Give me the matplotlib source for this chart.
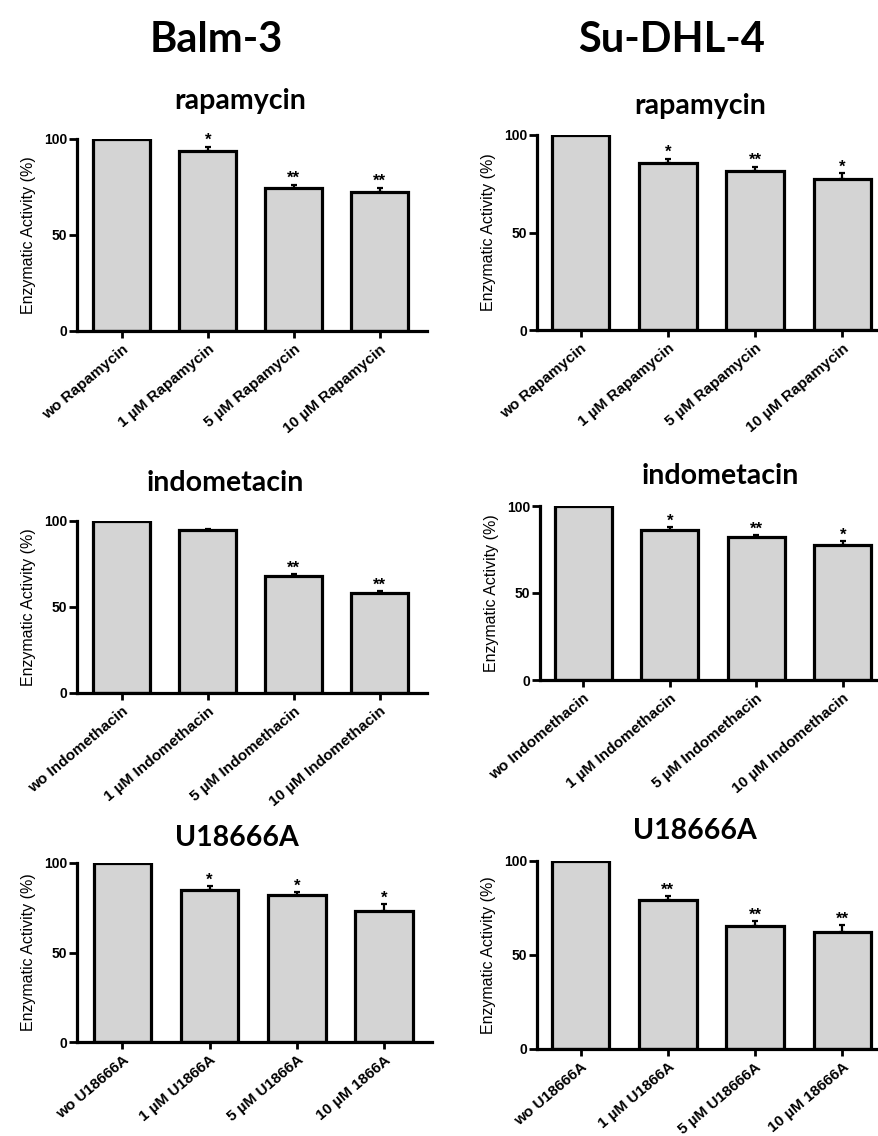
import matplotlib
matplotlib.use("Agg")
import matplotlib.pyplot as plt

# values (% enzymatic activity)
balm_rapa = [100, 94, 74.3, 72.6]
balm_rapa_err = [0, 2, 2, 2]
balm_rapa_sig = ['', '*', '**', '**']

sudhl_rapa = [100, 85.8, 81.7, 77.4]
sudhl_rapa_err = [0, 2, 2, 3]
sudhl_rapa_sig = ['', '*', '**', '*']

balm_indo = [100, 94.6, 68.1, 58.3]
balm_indo_err = [0, 0.8, 1, 1]
balm_indo_sig = ['', '', '**', '**']

sudhl_indo = [100, 86, 82, 77.8]
sudhl_indo_err = [0, 2, 1.5, 2]
sudhl_indo_sig = ['', '*', '**', '*']

balm_u18 = [100, 85.1, 81.9, 73]
balm_u18_err = [0, 2, 2, 4]
balm_u18_sig = ['', '*', '*', '*']

sudhl_u18 = [100, 79.2, 65.5, 62]
sudhl_u18_err = [0, 2, 2.5, 4]
sudhl_u18_sig = ['', '**', '**', '**']

rapa_labels = ['wo Rapamycin', '1 µM Rapamycin', '5 µM Rapamycin', '10 µM Rapamycin']
indo_labels = ['wo Indomethacin', '1 µM Indomethacin', '5 µM Indomethacin', '10 µM Indomethacin']
u18_labels_left = ['wo U18666A', '1 µM U1866A', '5 µM U1866A', '10 µM 1866A']
u18_labels_right = ['wo U18666A', '1 µM U1866A', '5 µM U18666A', '10 µM 18666A']

W, H = 879, 1136
fig = plt.figure(figsize=(W / 100, H / 100), dpi=100)


def px_axes(x0, y0, x1, y1):
    # pixel box (top-left origin) -> figure fraction
    return fig.add_axes([x0 / W, 1 - y1 / H, (x1 - x0) / W, (y1 - y0) / H])


def bar_panel(ax, vals, errs, sig, labels, xlim):
    x = range(len(vals))
    ax.bar(x, vals, width=0.66, color='#d4d4d4', edgecolor='black', linewidth=2.3, zorder=2)
    ax.errorbar(x, vals, yerr=[[0] * len(errs), errs], fmt='none', ecolor='black',
                elinewidth=1.6, capsize=2, capthick=1.6, zorder=3)
    for i in x:
        if sig[i]:
            ax.text(i, vals[i] + errs[i] + 0.8, sig[i], ha='center', va='baseline',
                    fontsize=12, fontweight='bold', family='Liberation Sans')
    ax.set_xlim(*xlim)
    ax.set_ylim(0, 100)
    ax.set_yticks([0, 50, 100])
    ax.set_xticks(list(x))
    ax.set_xticklabels(labels, rotation=40, ha='right', rotation_mode='anchor',
                       fontsize=11, fontweight='bold', family='Liberation Sans')
    for t in ax.get_yticklabels():
        t.set_fontsize(10)
        t.set_fontweight('bold')
        t.set_family('Liberation Sans')
    ax.set_ylabel('Enzymatic Activity (%)', fontsize=11.5, family='Liberation Sans', labelpad=6)
    for s in ['top', 'right']:
        ax.spines[s].set_visible(False)
    for s in ['left', 'bottom']:
        ax.spines[s].set_linewidth(2.3)
    ax.spines['bottom'].set_zorder(4)
    ax.tick_params(axis='y', width=2.0, length=6, pad=1)
    ax.tick_params(axis='x', width=2.0, length=5, pad=3)


ax1 = px_axes(77, 139, 427, 331)
bar_panel(ax1, balm_rapa, balm_rapa_err, balm_rapa_sig, rapa_labels, (-0.52, 3.55))
ax2 = px_axes(537, 135, 879, 330)
bar_panel(ax2, sudhl_rapa, sudhl_rapa_err, sudhl_rapa_sig, rapa_labels, (-0.5, 3.42))
ax3 = px_axes(77, 521, 427, 693)
bar_panel(ax3, balm_indo, balm_indo_err, balm_indo_sig, indo_labels, (-0.52, 3.55))
ax4 = px_axes(540, 506, 879, 680)
bar_panel(ax4, sudhl_indo, sudhl_indo_err, sudhl_indo_sig, indo_labels, (-0.5, 3.42))
ax5 = px_axes(77, 863, 432, 1042)
bar_panel(ax5, balm_u18, balm_u18_err, balm_u18_sig, u18_labels_left, (-0.52, 3.55))
ax6 = px_axes(537, 861, 879, 1049)
bar_panel(ax6, sudhl_u18, sudhl_u18_err, sudhl_u18_sig, u18_labels_right, (-0.5, 3.42))

title_font = dict(family='Lato', fontweight='bold', ha='center', va='center')
fig.text(216 / W, 1 - 40 / H, 'Balm-3', fontsize=30, **title_font)
fig.text(672 / W, 1 - 40 / H, 'Su-DHL-4', fontsize=30, **title_font)
fig.text(240 / W, 1 - 101 / H, 'rapamycin', fontsize=20.5, **title_font)
fig.text(700 / W, 1 - 106 / H, 'rapamycin', fontsize=20.5, **title_font)
fig.text(225 / W, 1 - 483 / H, 'indometacin', fontsize=20.5, **title_font)
fig.text(720 / W, 1 - 476 / H, 'indometacin', fontsize=20.5, **title_font)
fig.text(237 / W, 1 - 838 / H, 'U18666A', fontsize=20.5, **title_font)
fig.text(695 / W, 1 - 831 / H, 'U18666A', fontsize=20.5, **title_font)

fig.savefig('out.png', dpi=100)
